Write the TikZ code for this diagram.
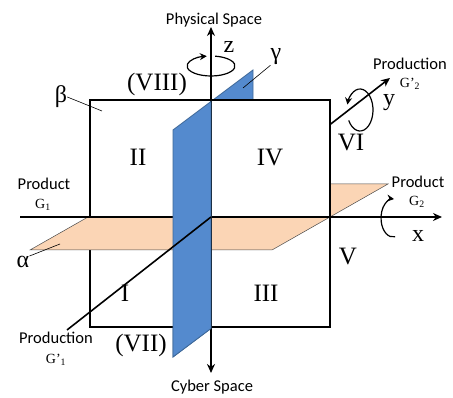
\documentclass[tikz,border=0pt]{standalone}
\usepackage{fontspec}
\setmainfont{Liberation Serif}
\setsansfont{Carlito}
\usetikzlibrary{arrows.meta, positioning, calc}

\definecolor{planeblue}{RGB}{84,138,206}
\definecolor{planeblueedge}{RGB}{62,104,152}
\definecolor{planeorange}{RGB}{251,213,181}

\begin{document}
\begin{tikzpicture}[x=1pt, y=1pt,
    axisline/.style={line width=1.6pt},
    axis/.style={axisline, -{Stealth[length=9pt, width=8pt]}},
    bothaxis/.style={axisline, {Stealth[length=9pt, width=8pt]}-{Stealth[length=9pt, width=8pt]}},
    turn/.style={line width=1.2pt, -{Stealth[length=7pt, width=7pt]}},
    leader/.style={line width=0.6pt},
    gammaplane/.style={fill=planeblue, draw=planeblueedge, line width=0.8pt},
    alphaplane/.style={fill=planeorange, draw=black!70, line width=0.5pt},
    quadrant/.style={font=\fontsize{25}{25}\selectfont, inner sep=0pt},
    axislabel/.style={font=\fontsize{24}{24}\selectfont, inner sep=0pt},
    planelabel/.style={font=\fontsize{24}{24}\selectfont, inner sep=0pt},
    sidelabel/.style={font=\sffamily\fontsize{16.5}{17}\selectfont, inner sep=0pt},
    sublabel/.style={font=\fontsize{14}{14}\selectfont, inner sep=0pt},
]
\useasboundingbox (0,0) rectangle (453,398);

% Punti
\coordinate (O)    at (211,181);
\coordinate (zTop) at (211,371);
\coordinate (zBot) at (211,25);
\coordinate (xL)   at (20,181);
\coordinate (xR)   at (442,181);
\coordinate (yL)   at (67,68);
\coordinate (yR)   at (390,320);

% Piano alpha
\coordinate (aFL) at (30,148);
\coordinate (aFR) at (272,148);
\coordinate (aBR) at (388,214);
\coordinate (aBL) at (146,214);
\coordinate (aML) at ($(aFL)!0.5!(aBL)$);
\coordinate (aMR) at ($(aFR)!0.5!(aBR)$);

% Piano gamma
\coordinate (gFT) at (173,268);
\coordinate (gBT) at (253,328);
\coordinate (gBB) at (253,101);
\coordinate (gFB) at (173,41);
\coordinate (gMT) at (211,296.5);
\coordinate (gMB) at (211,69.5);

% Parte posteriore dei piani
\filldraw[gammaplane] (gFT) -- (gBT) -- (gBB) -- (gFB) -- cycle;
\filldraw[alphaplane] (aML) -- (aMR) -- (aBR) -- (aBL) -- cycle;

% Piano beta
\node[draw, fill=white, line width=1.1pt, inner sep=0pt, outer sep=0pt,
      minimum width=240pt, minimum height=227pt] (beta) at (210,184.5) {};

% Parte anteriore
\filldraw[alphaplane] (aFL) -- (aFR) -- (aMR) -- (aML) -- cycle;
\draw[axis] (xL) -- (xR);
\draw[bothaxis] (zBot) -- (zTop);
\filldraw[gammaplane] (gFB) -- (gMB) -- (gMT) -- (gFT) -- cycle;
\draw[axisline] (yL) -- (O);
\draw[axis] (intersection of O--yR and beta.north east--beta.south east) -- (yR);

% Rotazioni
\coordinate (zC) at (211,332);
\coordinate (xC) at (393,180);
\coordinate (yC) at (360,288);
\draw[turn] ($(zC)+(80:24pt and 10pt)$)
    arc[start angle=80, end angle=-260, x radius=24pt, y radius=10pt];
\draw[turn] ($(xC)+(-80:12pt and 19pt)$)
    arc[start angle=-80, end angle=-275, x radius=12pt, y radius=19pt];
\draw[turn] ($(yC)+(-150:13pt and 21pt)$)
    arc[start angle=-150, end angle=165, x radius=13pt, y radius=21pt];

% Etichette
\node[sidelabel] (phys)  at (214,378) {Physical Space};
\node[sidelabel] (cyber) at (212,11)  {Cyber Space};
\node[axislabel] (zlbl)  at (229,351) {z};
\node[axislabel] (ylbl)  at (389,295) {y};
\node[axislabel] (xlbl)  at (418,162) {x};

\node[planelabel] (glbl) at (276,341) {γ};
\node[planelabel] (blbl) at (61,301)  {β};
\node[planelabel] (albl) at (23,136)  {α};
\draw[leader] (glbl.south west) -- (243,310);
\draw[leader] (blbl.east) -- (102,287);
\draw[leader] (albl.north east) -- (60,154);

\node[quadrant] (q8) at (157,314) {(VIII)};
\node[quadrant] (q2) at (138,241) {II};
\node[quadrant] (q4) at (270,240) {IV};
\node[quadrant] (q6) at (351,255) {VI};
\node[quadrant] (q1) at (125,105) {I};
\node[quadrant] (q3) at (266,105) {III};
\node[quadrant] (q5) at (348,141) {V};
\node[quadrant] (q7) at (141,53)  {(VII)};

\node[sidelabel] (prodL)  at (44,214)  {Product};
\node[sublabel]  (g1)     at (43,193)  {G\textsubscript{1}};
\node[sidelabel] (prodR)  at (418,216) {Product};
\node[sublabel]  (g2)     at (417,196) {G\textsubscript{2}};
\node[sidelabel] (prodnL) at (56,60)   {Production};
\node[sublabel]  (gp1)    at (56,38)   {G'\textsubscript{1}};
\node[sidelabel] (prodnR) at (410,334) {Production};
\node[sublabel]  (gp2)    at (410,314) {G'\textsubscript{2}};
\end{tikzpicture}
\end{document}
